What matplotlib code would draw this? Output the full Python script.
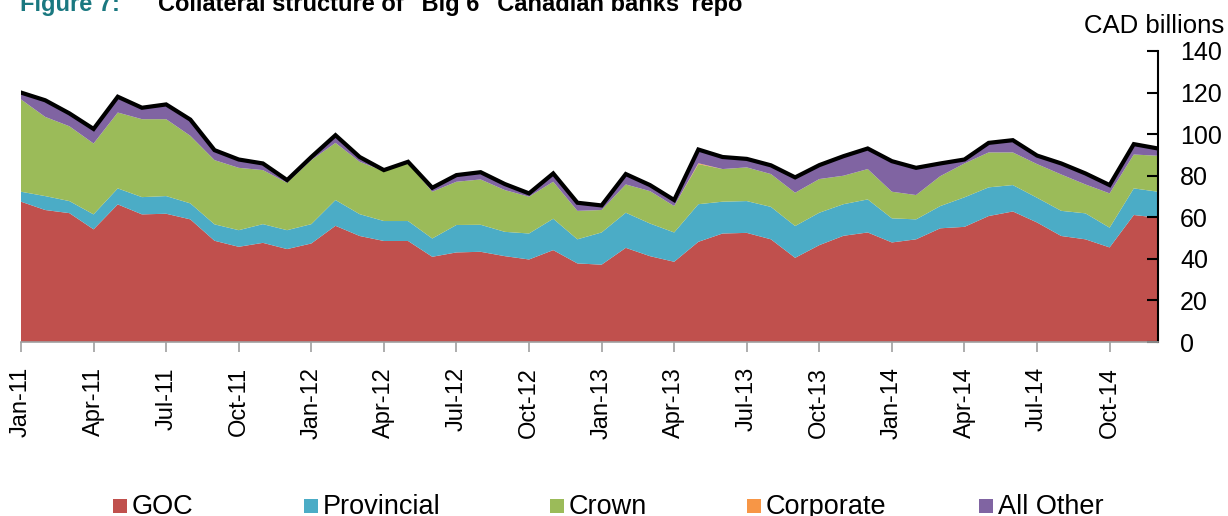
import matplotlib
matplotlib.use("Agg")
import matplotlib.pyplot as plt
from matplotlib.patches import Rectangle
import numpy as np

plt.rcParams['font.family'] = ['Liberation Sans', 'DejaVu Sans']

months = ['Jan-11','Feb-11','Mar-11','Apr-11','May-11','Jun-11','Jul-11','Aug-11','Sep-11','Oct-11','Nov-11','Dec-11',
          'Jan-12','Feb-12','Mar-12','Apr-12','May-12','Jun-12','Jul-12','Aug-12','Sep-12','Oct-12','Nov-12','Dec-12',
          'Jan-13','Feb-13','Mar-13','Apr-13','May-13','Jun-13','Jul-13','Aug-13','Sep-13','Oct-13','Nov-13','Dec-13',
          'Jan-14','Feb-14','Mar-14','Apr-14','May-14','Jun-14','Jul-14','Aug-14','Sep-14','Oct-14','Nov-14','Dec-14']

goc = [67.5, 63.5, 62.0, 54.2, 66.2, 61.4, 61.7, 59.0, 48.7, 45.8, 47.7, 44.7,
       47.4, 55.9, 51.0, 48.6, 48.6, 41.0, 43.1, 43.4, 41.3, 39.7, 44.2, 37.8,
       37.2, 45.3, 41.3, 38.6, 48.2, 52.2, 52.5, 49.4, 40.5, 46.6, 51.1, 52.7,
       47.9, 49.4, 54.7, 55.4, 60.6, 62.8, 57.5, 51.0, 49.4, 45.5, 61.1, 59.8]
provincial = [4.8, 6.7, 5.8, 7.2, 7.7, 8.3, 8.5, 7.7, 7.9, 8.0, 9.0, 9.1,
              9.3, 12.4, 10.5, 9.6, 9.6, 8.8, 13.2, 13.0, 11.7, 12.5, 15.1, 11.6,
              15.5, 16.9, 15.7, 14.1, 18.1, 15.3, 15.3, 15.6, 15.3, 15.6, 15.2, 15.9,
              11.6, 9.6, 10.7, 14.2, 13.8, 12.7, 11.9, 12.1, 12.5, 9.5, 12.8, 12.5]
crown = [44.4, 38.1, 36.0, 34.1, 36.5, 37.5, 37.0, 32.5, 30.9, 30.0, 26.0, 22.8,
         30.8, 27.5, 25.2, 24.0, 28.0, 22.5, 20.8, 21.8, 20.1, 17.7, 17.8, 13.7,
         10.8, 13.6, 15.6, 12.7, 19.3, 15.7, 16.2, 15.8, 16.0, 16.2, 13.7, 14.6,
         12.8, 11.7, 14.4, 16.3, 16.8, 15.7, 16.2, 17.5, 13.9, 16.5, 16.3, 17.3]
corporate = [0, 0, 0, 0, 0, 0, 0, 0, 0, 0, 0, 0,
             0, 0, 0, 0, 0, 0, 0, 0, 0, 0, 0, 0,
             0, 0, 0, 0, 0.4, 0, 0, 0, 0, 0, 0, 0,
             0, 0, 0, 0, 0, 0, 0, 0, 0, 0, 0, 0]
all_other = [3.3, 8.0, 6.2, 7.0, 7.6, 5.5, 7.1, 7.8, 4.8, 4.0, 3.2, 1.3,
             1.5, 3.7, 2.3, 0.5, 0.5, 1.9, 3.2, 3.5, 2.9, 1.6, 4.0, 3.9,
             2.2, 5.0, 2.9, 2.9, 6.6, 5.8, 4.1, 4.2, 7.4, 6.7, 9.4, 9.9,
             14.7, 13.1, 6.1, 1.9, 4.6, 5.9, 4.1, 5.3, 5.3, 4.0, 5.0, 3.5]

series_names = ['GOC', 'Provincial', 'Crown', 'Corporate', 'All Other']
colors = ['#C0504D', '#4BACC6', '#9BBB59', '#F79646', '#8064A2']
tick_labels = ['Jan-11','Apr-11','Jul-11','Oct-11','Jan-12','Apr-12','Jul-12','Oct-12',
               'Jan-13','Apr-13','Jul-13','Oct-13','Jan-14','Apr-14','Jul-14','Oct-14']
y_ticks = [0, 20, 40, 60, 80, 100, 120, 140]

x = np.arange(len(months))
data = np.array([goc, provincial, crown, corporate, all_other])
total = data.sum(axis=0)

fig = plt.figure(figsize=(12.28, 5.16), dpi=100)
ax = fig.add_axes([21/1228, 1 - 342/516, (1158-21)/1228, (342-51)/516])

ax.stackplot(x, data, colors=colors, linewidth=0)
ax.plot(x, total, color='black', lw=3, solid_joinstyle='miter')

ax.set_xlim(0, len(months) - 1)
ax.set_ylim(0, 140)

tick_pos = [months.index(t) for t in tick_labels]
ax.set_xticks(tick_pos)
ax.set_xticklabels(tick_labels, rotation=90, fontsize=17)
ax.tick_params(axis='x', direction='out', length=7, width=1.2, color='#a0a0a0', pad=11)

ax.yaxis.tick_right()
ax.set_yticks(y_ticks)
ax.set_yticklabels([str(v) for v in y_ticks], fontsize=18)
ax.tick_params(axis='y', direction='in', length=8, width=1.5, color='black', pad=16)

for s in ['left', 'top']:
    ax.spines[s].set_visible(False)
ax.spines['right'].set_color('black')
ax.spines['right'].set_linewidth(1.5)
ax.spines['bottom'].set_color('#a0a0a0')
ax.spines['bottom'].set_linewidth(1.2)

fig.text(1224/1228, 1 - 33/516, 'CAD billions', ha='right', va='baseline', fontsize=18.5)

fig.text(20/1228, 1 - 11/516, 'Figure 7:', ha='left', va='baseline', fontsize=17,
         fontweight='bold', color='#1A7880')
fig.text(158/1228, 1 - 11/516, 'Collateral structure of "Big 6" Canadian banks\' repo',
         ha='left', va='baseline', fontsize=17, fontweight='bold', color='black')

# legend
leg_x = [113, 304, 550, 747, 979]
for name, col, lx in zip(series_names, colors, leg_x):
    fig.patches.append(Rectangle((lx/1228, 1 - 513/516), 14/1228, 14/516,
                                 transform=fig.transFigure, facecolor=col, edgecolor='none'))
    fig.text((lx + 19)/1228, 1 - 514/516, name, ha='left', va='baseline', fontsize=19.5)

fig.savefig('out.png', dpi=100)
